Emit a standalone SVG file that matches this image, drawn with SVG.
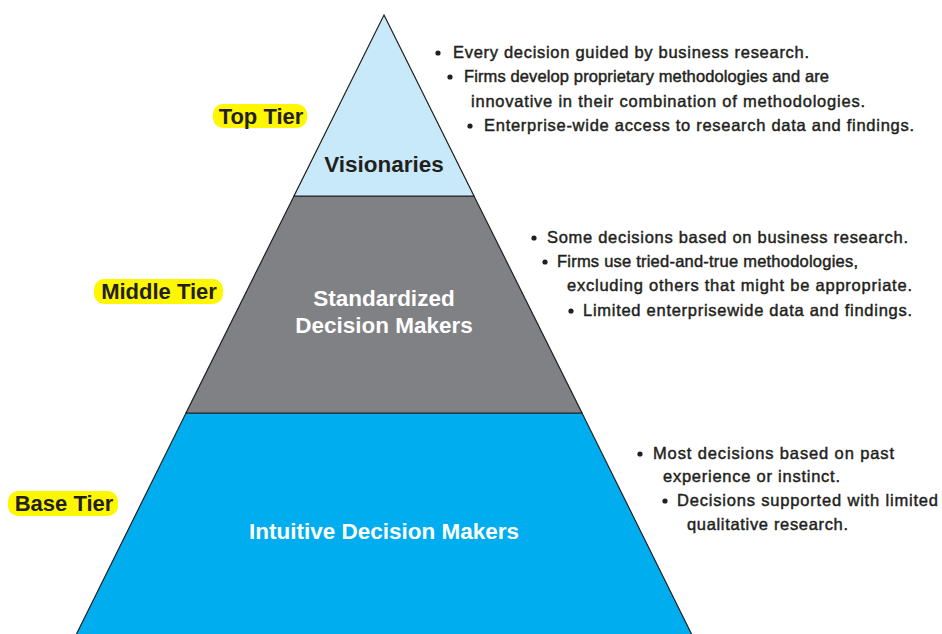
<svg xmlns="http://www.w3.org/2000/svg" width="942" height="634" viewBox="0 0 942 634">
<style>
.tier{stroke:#231F20;stroke-width:1.2;stroke-linejoin:miter}
.title{font-family:"Liberation Sans",Arial,sans-serif;font-weight:bold;font-size:22.5px;text-anchor:middle}
.lab{font-family:"Liberation Sans",Arial,sans-serif;font-weight:bold;font-size:22px;fill:#231F20;text-anchor:middle}
.pill{fill:#FFF700}
.b{font-family:"Liberation Sans",Arial,sans-serif;font-size:16.5px;fill:#231F20;stroke:#231F20;stroke-width:0.45}
</style>
<rect width="942" height="634" fill="#FFFFFF"/>
<g id="connectors"/>
<g id="tier-base">
<polygon class="tier" points="186,413 582,413 692,635 76,635" fill="#00AEEF"/>
<text class="title" x="384" y="539" fill="#FFFFFF">Intuitive Decision Makers</text>
</g>
<g id="tier-middle">
<polygon class="tier" points="294,196 474,196 582,413 186,413" fill="#808184"/>
<text class="title" x="384" y="306" fill="#FFFFFF">Standardized</text>
<text class="title" x="384" y="333" fill="#FFFFFF">Decision Makers</text>
</g>
<g id="tier-top">
<polygon class="tier" points="384,15 474,196 294,196" fill="#C7E9F9"/>
<text class="title" x="384" y="172" fill="#231F20">Visionaries</text>
</g>
<g id="label-top">
<rect class="pill" x="213" y="104" width="94" height="24" rx="10"/>
<text class="lab" x="261" y="124">Top Tier</text>
</g>
<g id="label-middle">
<rect class="pill" x="94" y="279" width="129" height="25" rx="10"/>
<text class="lab" x="159" y="299">Middle Tier</text>
</g>
<g id="label-base">
<rect class="pill" x="8" y="491" width="110" height="25" rx="10"/>
<text class="lab" x="64" y="511">Base Tier</text>
</g>
<g id="notes-top">
<circle cx="438" cy="53" r="2.6" fill="#231F20"/>
<text class="b" x="453" y="58" textLength="356" lengthAdjust="spacing">Every decision guided by business research.</text>
<circle cx="450" cy="77" r="2.6" fill="#231F20"/>
<text class="b" x="464" y="82" textLength="365" lengthAdjust="spacing">Firms develop proprietary methodologies and are</text>
<text class="b" x="471" y="107" textLength="394" lengthAdjust="spacing">innovative in their combination of methodologies.</text>
<circle cx="470" cy="126" r="2.6" fill="#231F20"/>
<text class="b" x="484" y="131" textLength="430" lengthAdjust="spacing">Enterprise-wide access to research data and findings.</text>
</g>
<g id="notes-middle">
<circle cx="534" cy="238" r="2.6" fill="#231F20"/>
<text class="b" x="547" y="243" textLength="361" lengthAdjust="spacing">Some decisions based on business research.</text>
<circle cx="545" cy="262" r="2.6" fill="#231F20"/>
<text class="b" x="557" y="267" textLength="301" lengthAdjust="spacing">Firms use tried-and-true methodologies,</text>
<text class="b" x="567" y="291" textLength="345" lengthAdjust="spacing">excluding others that might be appropriate.</text>
<circle cx="571" cy="311" r="2.6" fill="#231F20"/>
<text class="b" x="583" y="316" textLength="329" lengthAdjust="spacing">Limited enterprisewide data and findings.</text>
</g>
<g id="notes-base">
<circle cx="640" cy="454" r="2.6" fill="#231F20"/>
<text class="b" x="653" y="459" textLength="241" lengthAdjust="spacing">Most decisions based on past</text>
<text class="b" x="663" y="482" textLength="177" lengthAdjust="spacing">experience or instinct.</text>
<circle cx="665" cy="501" r="2.6" fill="#231F20"/>
<text class="b" x="677" y="506" textLength="261" lengthAdjust="spacing">Decisions supported with limited</text>
<text class="b" x="687" y="530" textLength="161" lengthAdjust="spacing">qualitative research.</text>
</g>
</svg>
